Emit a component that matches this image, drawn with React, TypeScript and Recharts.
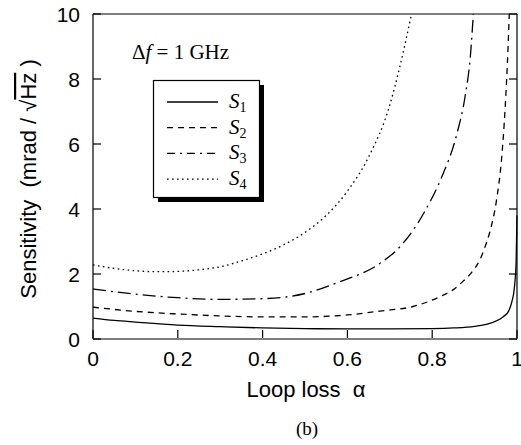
import React from 'react';
import { LineChart, Line, XAxis, YAxis, Legend } from 'recharts';

// ---- data ----
const xTicks = [0, 0.2, 0.4, 0.6, 0.8, 1];
const xTickLabels = ['0', '0.2', '0.4', '0.6', '0.8', '1'];
const yTicks = [0, 2, 4, 6, 8, 10];

const alphaS1 = [0, 0.05, 0.1, 0.2, 0.3, 0.4, 0.5, 0.6, 0.7, 0.8, 0.85, 0.9, 0.93, 0.95, 0.967, 0.98, 0.988, 0.994, 0.998, 1.0];
const valuesS1 = [0.64, 0.57, 0.52, 0.43, 0.38, 0.34, 0.32, 0.31, 0.31, 0.32, 0.34, 0.39, 0.46, 0.55, 0.68, 0.85, 1.15, 1.6, 2.4, 3.8];

const alphaS2 = [0, 0.1, 0.2, 0.3, 0.4, 0.5, 0.6, 0.677, 0.755, 0.818, 0.85, 0.873, 0.895, 0.913, 0.925, 0.936, 0.952, 0.964, 0.972, 0.979, 0.983];
const valuesS2 = [0.98, 0.85, 0.77, 0.71, 0.68, 0.68, 0.74, 0.86, 1.0, 1.3, 1.52, 1.78, 2.08, 2.45, 2.85, 3.3, 4.3, 5.6, 7.1, 9.0, 10.5];

const alphaS3 = [0, 0.1, 0.2, 0.3, 0.4, 0.5, 0.578, 0.677, 0.724, 0.78, 0.823, 0.858, 0.878, 0.89, 0.898];
const valuesS3 = [1.54, 1.38, 1.27, 1.22, 1.24, 1.4, 1.74, 2.33, 2.84, 3.87, 5.0, 6.3, 7.5, 8.7, 10.2];

const alphaS4 = [0, 0.05, 0.1, 0.15, 0.2, 0.25, 0.3, 0.35, 0.4, 0.45, 0.5, 0.55, 0.6, 0.65, 0.7, 0.724, 0.748, 0.756];
const valuesS4 = [2.28, 2.17, 2.1, 2.07, 2.08, 2.13, 2.22, 2.4, 2.62, 2.9, 3.28, 3.8, 4.55, 5.6, 7.2, 8.4, 9.8, 10.3];

const seriesNames = ['S1', 'S2', 'S3', 'S4'];
const seriesSubs = ['1', '2', '3', '4'];

const toData = (a: number[], v: number[]) => a.map((x, i) => ({ a: x, v: v[i] }));
const seriesData = [
  toData(alphaS1, valuesS1),
  toData(alphaS2, valuesS2),
  toData(alphaS3, valuesS3),
  toData(alphaS4, valuesS4),
];
const dashes = [undefined, '6 5', '13 5 2 5', '1.6 3.4'];
const legendDashes = [undefined, '6 5', '8 5 2 5', '1.6 3.4'];

const SANS = '"Liberation Sans", Arial, Helvetica, sans-serif';
const SERIF = '"Liberation Serif", "Times New Roman", serif';
const TICK_LEN = 8;

const BottomTick = (p: any) => {
  const { x, payload } = p;
  const y = p.y - 1;
  const i = xTicks.indexOf(payload.value);
  return (
    <g>
      <line x1={x} y1={y} x2={x} y2={y - TICK_LEN} stroke="#000" strokeWidth={1.2} />
      <text x={x} y={y + 28} textAnchor="middle" fontFamily={SANS} fontSize={21} fill="#000">
        {i >= 0 ? xTickLabels[i] : payload.value}
      </text>
    </g>
  );
};
const TopTick = (p: any) => {
  const { x, y } = p;
  return <line x1={x} y1={y} x2={x} y2={y + TICK_LEN} stroke="#000" strokeWidth={1.2} />;
};
const LeftTick = (p: any) => {
  const { x, y, payload } = p;
  return (
    <g>
      <line x1={x} y1={y} x2={x + TICK_LEN} y2={y} stroke="#000" strokeWidth={1.2} />
      <text x={x - 13} y={y + 7.5} textAnchor="end" fontFamily={SANS} fontSize={21} fill="#000">
        {payload.value}
      </text>
    </g>
  );
};
const RightTick = (p: any) => {
  const { x, y } = p;
  return <line x1={x} y1={y} x2={x - TICK_LEN} y2={y} stroke="#000" strokeWidth={1.2} />;
};

const LegendBox = (props: any) => {
  const payload = props.payload || [];
  const w = 106;
  const h = 117;
  return (
    <svg width={w + 6} height={h + 6} style={{ display: 'block', overflow: 'visible' }}>
      <rect x={5} y={5} width={w} height={h} fill="#000" />
      <rect x={0.5} y={0.5} width={w} height={h} fill="#fff" stroke="#000" strokeWidth={1.2} />
      {payload.map((entry: any, i: number) => {
        const cy = 22 + i * 25.7;
        const idx = seriesNames.indexOf(entry.value);
        return (
          <g key={i}>
            <line x1={14} y1={cy} x2={65} y2={cy} stroke="#000" strokeWidth={1.3}
              strokeDasharray={legendDashes[idx]} />
            <text x={76} y={cy + 6} fontFamily={SERIF} fontSize={21} fill="#000">
              <tspan fontStyle="italic">S</tspan>
              <tspan fontSize={14} dy={4}>{seriesSubs[idx]}</tspan>
            </text>
          </g>
        );
      })}
    </svg>
  );
};

export default function App() {
  return (
    <div style={{ position: 'absolute', left: 0, top: 0, width: 521, height: 445, background: '#fff' }}>
      <LineChart width={521} height={445} margin={{ top: 13, right: 3, bottom: 105, left: 92 }}>
        <XAxis dataKey="a" type="number" domain={[0, 1]} ticks={xTicks} xAxisId="b"
          height={1} tickSize={0} tickMargin={0} tickLine={false}
          axisLine={{ stroke: '#000', strokeWidth: 1.2 }} tick={<BottomTick />} interval={0} />
        <XAxis dataKey="a" type="number" domain={[0, 1]} ticks={xTicks} xAxisId="t" orientation="top"
          height={1} tickSize={0} tickMargin={0} tickLine={false}
          axisLine={{ stroke: '#000', strokeWidth: 1.2 }} tick={<TopTick />} interval={0} />
        <YAxis type="number" domain={[0, 10]} ticks={yTicks} yAxisId="l" allowDataOverflow
          width={1} tickSize={0} tickMargin={0} tickLine={false}
          axisLine={{ stroke: '#000', strokeWidth: 1.2 }} tick={<LeftTick />} interval={0} />
        <YAxis type="number" domain={[0, 10]} ticks={yTicks} yAxisId="r" orientation="right" allowDataOverflow
          width={1} tickSize={0} tickMargin={0} tickLine={false}
          axisLine={{ stroke: '#000', strokeWidth: 1.2 }} tick={<RightTick />} interval={0} />
        {seriesData.map((d, i) => (
          <Line key={seriesNames[i]} data={d} dataKey="v" name={seriesNames[i]} xAxisId="b" yAxisId="l"
            type="monotone" stroke="#000" strokeWidth={1.3} strokeDasharray={dashes[i]}
            dot={false} activeDot={false} isAnimationActive={false} />
        ))}
        <Legend layout="vertical" align="center" verticalAlign="middle" content={<LegendBox />}
          wrapperStyle={{ position: 'absolute', left: 153, top: 80, width: 112, height: 123 }} />
      </LineChart>
      <svg width={521} height={445} style={{ position: 'absolute', left: 0, top: 0, pointerEvents: 'none' }}>
        <text x={132} y={59} fontFamily={SERIF} fontSize={21} fill="#000" style={{ whiteSpace: 'pre' }}>
          Δ<tspan fontStyle="italic">f</tspan> = 1 GHz
        </text>
        <text x={306} y={397} textAnchor="middle" fontFamily={SANS} fontSize={22} fill="#000" style={{ whiteSpace: 'pre' }}>
          {'Loop loss  α'}
        </text>
        <text x={307} y={435} textAnchor="middle" fontFamily={SERIF} fontSize={19} fill="#000">(b)</text>
        <text transform="translate(36,179) rotate(-90)" textAnchor="middle" fontFamily={SANS} fontSize={22} fill="#000" style={{ whiteSpace: 'pre' }}>
          {'Sensitivity  (mrad / √'}<tspan style={{ textDecoration: 'overline' }}>Hz</tspan>{' )'}
        </text>
      </svg>
    </div>
  );
}
